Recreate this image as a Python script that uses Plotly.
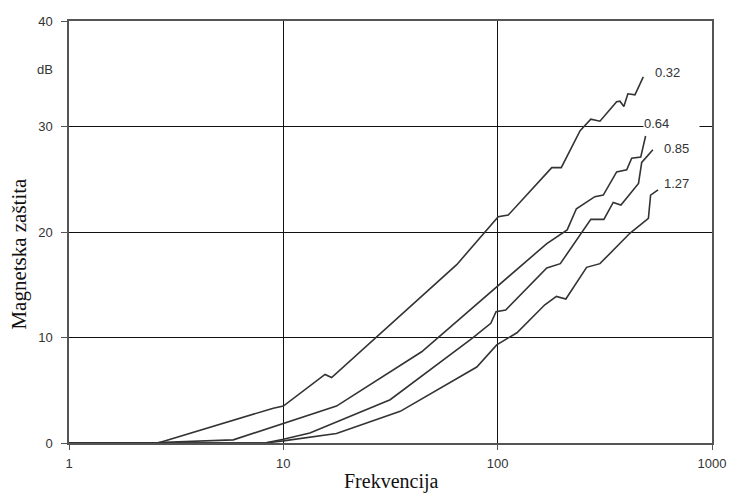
import plotly.graph_objects as go

# Frequencies (MHz) and magnetic shielding (dB) per thickness curve
f_032 = [1, 2.6, 8.98, 10, 15.65, 16.8, 64.4, 100.6, 112, 178.8, 198, 242.5, 272, 300, 359, 372, 388, 405, 437, 478]
v_032 = [0, 0, 3.3, 3.5, 6.5, 6.2, 16.9, 21.45, 21.6, 26.1, 26.1, 29.6, 30.7, 30.5, 32.35, 32.4, 31.9, 33.1, 33.0, 34.7]

f_064 = [1, 2.6, 5.84, 10, 17.7, 44.2, 99, 169.5, 211, 233, 284, 311, 359, 400, 422, 465, 490]
v_064 = [0, 0.05, 0.3, 1.86, 3.5, 8.65, 14.8, 18.9, 20.2, 22.2, 23.35, 23.5, 25.7, 25.9, 27.0, 27.1, 29.1]

f_085 = [1, 8.2, 10, 13.3, 31.5, 75.7, 92.9, 98.3, 109, 169.5, 196, 251, 272, 313, 346, 376, 454, 470, 530]
v_085 = [0, 0, 0.35, 0.95, 4.1, 9.9, 11.35, 12.45, 12.6, 16.6, 17.0, 20.2, 21.2, 21.2, 22.8, 22.55, 24.6, 26.6, 27.8]

f_127 = [1, 8.2, 10, 17.7, 35.1, 79.9, 99, 123, 166, 188, 208, 260, 300, 415, 505, 517, 560]
v_127 = [0, 0, 0.2, 0.9, 3.0, 7.2, 9.3, 10.45, 13.1, 13.9, 13.65, 16.65, 17.0, 19.9, 21.3, 23.5, 24.0]

series_labels = ["0.32", "0.64", "0.85", "1.27"]
x_ticks = [1, 10, 100, 1000]
x_ticktext = ["1", "10", "100", "1000"]
y_ticks = [0, 10, 20, 30, 40]

LINE = "#333333"
SANS = "Liberation Sans, Arial, sans-serif"
SERIF = "Liberation Serif, Times New Roman, serif"

fig = go.Figure()
for fx, vy, name in zip([f_032, f_064, f_085, f_127], [v_032, v_064, v_085, v_127], series_labels):
    fig.add_trace(go.Scatter(x=fx, y=vy, mode="lines", name=name,
                             line=dict(color=LINE, width=1.6), showlegend=False,
                             hoverinfo="skip"))

# curve labels (x in log10 units for log axis)
label_pos = {"0.32": (2.725, 35.1, None), "0.64": (2.678, 30.3, 55),
             "0.85": (2.767, 27.9, None), "1.27": (2.767, 24.6, None)}
for name in series_labels:
    lx, ly, w = label_pos[name]
    ann = dict(x=lx, y=ly, xref="x", yref="y", text=name, showarrow=False,
               xanchor="left", yanchor="middle", align="left",
               font=dict(family=SANS, size=13, color="#333333"))
    if w:
        ann.update(width=w, bgcolor="white", borderpad=0)
    fig.add_annotation(**ann)

fig.add_annotation(x=-0.0373, y=35.4, xref="paper", yref="y", text="dB", showarrow=False,
                   xanchor="center", yanchor="middle",
                   font=dict(family=SANS, size=13, color="#333333"))
fig.add_annotation(x=2.482, y=-1.7, xref="x", yref="y", text="MHz", showarrow=False,
                   xanchor="center", yanchor="middle",
                   font=dict(family=SANS, size=12, color="#333333"))
fig.add_annotation(x=0.502, y=-0.091, xref="paper", yref="paper", text="Frekvencija",
                   showarrow=False, xanchor="center", yanchor="middle",
                   font=dict(family=SERIF, size=20, color="#111111"))
fig.add_annotation(x=-0.077, y=0.45, xref="paper", yref="paper", text="Magnetska zaštita",
                   showarrow=False, xanchor="center", yanchor="middle", textangle=-90,
                   font=dict(family=SERIF, size=21, color="#111111"))

fig.update_xaxes(type="log", range=[0, 3], tickvals=x_ticks, ticktext=x_ticktext,
                 showgrid=True, gridcolor="#111111", gridwidth=1, automargin=False,
                 showline=True, linecolor="#555555", linewidth=1.5, mirror=True,
                 ticks="outside", ticklen=5, tickcolor="#555555", ticklabelstandoff=3,
                 tickfont=dict(family=SANS, size=13, color="#333333"), zeroline=False)
fig.update_yaxes(range=[0, 40], tickvals=y_ticks, automargin=False,
                 showgrid=True, gridcolor="#111111", gridwidth=1,
                 showline=True, linecolor="#555555", linewidth=1.5, mirror=True,
                 ticks="outside", ticklen=6, tickcolor="#555555", ticklabelstandoff=6,
                 tickfont=dict(family=SANS, size=13, color="#333333"), zeroline=False)

fig.update_layout(width=729, height=493, margin=dict(l=69, r=17, t=21, b=50, autoexpand=False),
                  plot_bgcolor="white", paper_bgcolor="white")

fig.write_html("out.html", config={"displayModeBar": False},
               post_script="document.body.style.margin='0';document.body.style.padding='0';"
                           "document.documentElement.style.overflow='hidden';")
